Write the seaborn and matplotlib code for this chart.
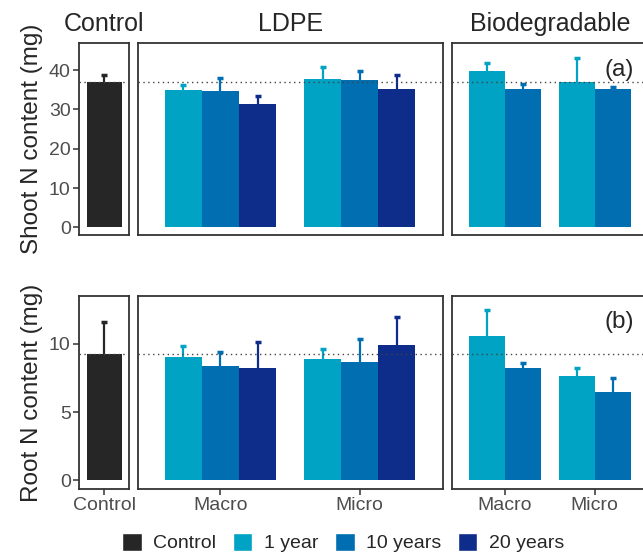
import pandas as pd
import seaborn as sns
import matplotlib.pyplot as plt
from matplotlib.patches import Patch

# Datos
treatment = ['Control',
             'LDPE', 'LDPE', 'LDPE', 'LDPE', 'LDPE', 'LDPE',
             'Biodegradable', 'Biodegradable', 'Biodegradable', 'Biodegradable']
size = ['Control',
        'Macro', 'Macro', 'Macro', 'Micro', 'Micro', 'Micro',
        'Macro', 'Macro', 'Micro', 'Micro']
age = ['Control',
       '1 year', '10 years', '20 years', '1 year', '10 years', '20 years',
       '1 year', '10 years', '1 year', '10 years']
shoot = [37.0, 34.9, 34.6, 31.3, 37.6, 37.4, 35.1, 39.7, 35.1, 36.9, 35.1]
shoot_se = [1.7, 1.4, 3.3, 2.1, 3.2, 2.3, 3.6, 2.0, 1.3, 6.1, 0.6]
root = [9.25, 9.0, 8.37, 8.24, 8.85, 8.68, 9.88, 10.53, 8.19, 7.64, 6.44]
root_se = [2.3, 0.8, 1.0, 1.85, 0.73, 1.66, 2.05, 1.9, 0.4, 0.58, 1.02]

age_levels = ['Control', '1 year', '10 years', '20 years']
colores = ['#262626', '#00A3C4', '#006EB0', '#0E2C8A']
paleta = dict(zip(age_levels, colores))

panels = ['Control', 'LDPE', 'Biodegradable']
panel_ages = {'Control': ['Control'],
              'LDPE': ['1 year', '10 years', '20 years'],
              'Biodegradable': ['1 year', '10 years']}
panel_sizes = {'Control': ['Control'], 'LDPE': ['Macro', 'Micro'],
               'Biodegradable': ['Macro', 'Micro']}
panel_xlim = {'Control': (-0.57, 0.57), 'LDPE': (-0.59, 1.6),
              'Biodegradable': (-0.59, 1.59)}

data = pd.DataFrame({'treatment': treatment, 'size': size, 'age': age,
                     'shoot': shoot, 'shoot_se': shoot_se,
                     'root': root, 'root_se': root_se})

sns.set_style('white')
plt.rcParams['font.family'] = ['Liberation Sans', 'DejaVu Sans']

fig = plt.figure(figsize=(6.43, 5.55), dpi=100)

# posiciones de los paneles (fracción de la figura)
lefts = {'Control': 0.1229, 'LDPE': 0.2151, 'Biodegradable': 0.7025}
widths = {'Control': 0.0782, 'LDPE': 0.4743, 'Biodegradable': 0.305}
rows = [('shoot', 'shoot_se', 0.576, 0.346, (-2.0, 46.8), [0, 10, 20, 30, 40],
         'Shoot N content (mg)', '(a)'),
        ('root', 'root_se', 0.119, 0.348, (-0.62, 13.5), [0, 5, 10],
         'Root N content (mg)', '(b)')]

for r, (var, se, bottom, height, ylim, yticks, ylabel, tag) in enumerate(rows):
    ref = data.loc[data['treatment'] == 'Control', var].iloc[0]
    for p in panels:
        ax = fig.add_axes([lefts[p], bottom, widths[p], height])
        sub = data[data['treatment'] == p]
        sns.barplot(data=sub, x='size', y=var, hue='age',
                    order=panel_sizes[p], hue_order=panel_ages[p],
                    palette=paleta, width=0.8, errorbar=None, saturation=1,
                    linewidth=0, legend=False, ax=ax, zorder=2)
        # barras de error solo hacia arriba
        for lvl, cont in zip(panel_ages[p], ax.containers):
            rows_lvl = sub[sub['age'] == lvl].set_index('size').loc[panel_sizes[p]]
            for bar, m, s in zip(cont, rows_lvl[var], rows_lvl[se]):
                xc = bar.get_x() + bar.get_width() / 2
                eb = ax.errorbar(xc, m, yerr=[[0], [s]], fmt='none',
                                 ecolor=paleta[lvl], elinewidth=1.6,
                                 capsize=2, capthick=2.5, zorder=3)
                eb[1][0].set_visible(False)
        ax.axhline(ref, color='#444444', ls=(0, (1, 2.5)), lw=1.0, zorder=4)
        ax.set_xlim(panel_xlim[p])
        ax.set_ylim(ylim)
        ax.set_xlabel('')
        ax.set_ylabel('')
        for sp in ax.spines.values():
            sp.set_color('#333333')
            sp.set_linewidth(1.3)
        ax.tick_params(axis='both', colors='#333333', labelcolor='#4D4D4D',
                       labelsize=14, length=4, width=1.1, direction='out')
        if p == 'Control':
            ax.set_yticks(yticks)
            ax.tick_params(axis='y', left=True, pad=2)
            ax.set_ylabel(ylabel, fontsize=17.5, labelpad=4)
        else:
            ax.set_yticks([])
        if r == 0:
            ax.set_xticks([])
            ax.set_title(p, fontsize=18, pad=9)
        else:
            ax.tick_params(axis='x', bottom=True, pad=2)
        if p == 'Biodegradable':
            ax.text(0.93, 0.92, tag, transform=ax.transAxes, fontsize=17.5,
                    ha='right', va='top')

# Leyenda común
handles = [Patch(facecolor=paleta[a], label=a) for a in age_levels]
fig.legend(handles=handles, loc='center', bbox_to_anchor=(0.534, 0.022),
           ncol=4, frameon=False, fontsize=14, handlelength=1.0,
           handleheight=1.0, handletextpad=0.6, columnspacing=0.85)

plt.savefig('out.png', dpi=100)
